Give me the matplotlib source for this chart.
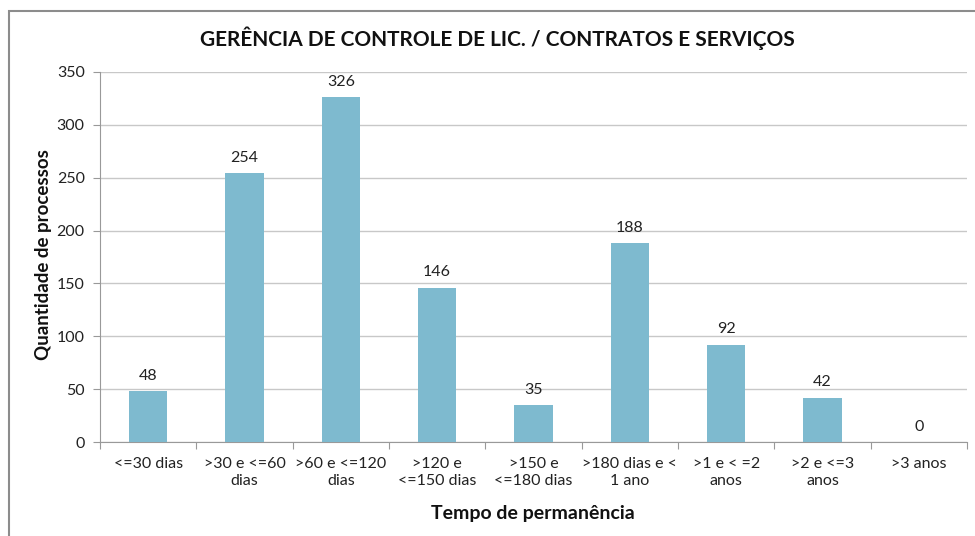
import matplotlib
matplotlib.use("Agg")
import matplotlib.pyplot as plt
from matplotlib.patches import Rectangle

categories = ["<=30 dias", ">30 e <=60\ndias", ">60 e <=120\ndias", ">120 e\n<=150 dias",
              ">150 e\n<=180 dias", ">180 dias e <\n1 ano", ">1 e < =2\nanos", ">2 e <=3\nanos", ">3 anos"]
values = [48, 254, 326, 146, 35, 188, 92, 42, 0]
yticks = [0, 50, 100, 150, 200, 250, 300, 350]

title = "GERÊNCIA DE CONTROLE DE LIC. / CONTRATOS E SERVIÇOS"
ylabel = "Quantidade de processos"
xlabel = "Tempo de permanência"

plt.rcParams['font.family'] = ['Lato', 'DejaVu Sans']

fig = plt.figure(figsize=(9.75, 5.36), dpi=100)
ax = fig.add_axes([100/975, 1-442/536, (967-100)/975, (442-72)/536])

x = list(range(len(values)))
ax.bar(x, values, width=0.4, color="#7EBACF", zorder=3)
for xi, v in zip(x, values):
    ax.text(xi, v + 8, str(v), ha="center", va="bottom", fontsize=11.5, color="#222222")

ax.set_xlim(-0.5, len(values) - 0.5)
ax.set_ylim(0, 350)
ax.set_yticks(yticks)
ax.set_yticklabels([str(t) for t in yticks], fontsize=11.5, color="#222222")
ax.yaxis.grid(True, color="#C8C8C8", linewidth=1, zorder=0)

ax.set_xticks([i + 0.5 for i in range(-1, len(values))], minor=False)
ax.set_xticklabels([""] * (len(values) + 1))
ax.tick_params(axis="x", length=5, color="#999999", direction="out")
ax.tick_params(axis="y", length=5, color="#999999", direction="out", pad=6)
for xi, c in zip(x, categories):
    ax.text(xi, -14, c, ha="center", va="top", fontsize=11.5, color="#222222",
            linespacing=1.25, transform=ax.transData)

for s in ["top", "right"]:
    ax.spines[s].set_visible(False)
for s in ["left", "bottom"]:
    ax.spines[s].set_color("#999999")

fig.text(497/975, 1-38/536, title, ha="center", va="center", fontsize=15, fontweight="bold", color="#111111")
fig.text(44/975, 1-255/536, ylabel, ha="center", va="center", rotation=90, fontsize=13.5, fontweight="bold", color="#111111")
fig.text(533/975, 1-514/536, xlabel, ha="center", va="center", fontsize=14, fontweight="bold", color="#111111")

fig.patches.append(Rectangle((9/975, -0.1), 1.2, 1.1 - 11/536, transform=fig.transFigure,
                             fill=False, edgecolor="#8C8C8C", linewidth=1.5))

fig.savefig("out.png", dpi=100)
